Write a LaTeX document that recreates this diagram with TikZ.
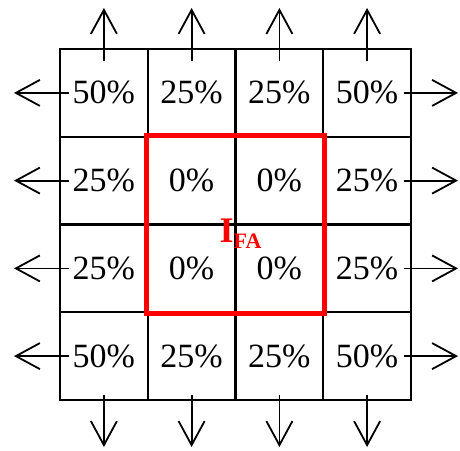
\documentclass[tikz,border=0pt]{standalone}
\usepackage{fontspec}
\setmainfont{Liberation Serif}
\usetikzlibrary{arrows.meta,positioning}
\definecolor{Grid}{HTML}{000000}
\definecolor{Core}{HTML}{FF0000}

\begin{document}
\begin{tikzpicture}[x=1pt,y=-1pt, cell/.style={draw=Grid,line width=2.2pt,minimum width=87.75pt,minimum height=87.75pt,inner sep=0pt,font=\fontsize{34}{34}\selectfont}, flow/.style={-{Straight Barb[length=24pt,width=26pt,line width=1.8pt]},line width=1.8pt,draw=Grid}]
\useasboundingbox (0,0) rectangle (460,450);
\node[cell] (c11) at (103.9,92.9) {50\%};\node[cell] (c12) at (191.6,92.9) {25\%};\node[cell] (c13) at (279.4,92.9) {25\%};\node[cell] (c14) at (367.1,92.9) {50\%};
\node[cell] (c21) at (103.9,180.6) {25\%};\node[cell] (c22) at (191.6,180.6) {0\%};\node[cell] (c23) at (279.4,180.6) {0\%};\node[cell] (c24) at (367.1,180.6) {25\%};
\node[cell] (c31) at (103.9,268.4) {25\%};\node[cell] (c32) at (191.6,268.4) {0\%};\node[cell] (c33) at (279.4,268.4) {0\%};\node[cell] (c34) at (367.1,268.4) {25\%};
\node[cell] (c41) at (103.9,356.1) {50\%};\node[cell] (c42) at (191.6,356.1) {25\%};\node[cell] (c43) at (279.4,356.1) {25\%};\node[cell] (c44) at (367.1,356.1) {50\%};
\draw[Core,line width=4.5pt] (c22.north west) rectangle (c33.south east);
\node[text=Core,inner sep=0pt] (ifa) at ([xshift=4pt,yshift=-8pt]c22.south east) {{\fontsize{36}{36}\selectfont\bfseries I}{\fontsize{22}{22}\selectfont\bfseries\raisebox{-6pt}{FA}}};
% free ends of the arrows
\coordinate (t1) at (103.9,8);\coordinate (t2) at (191.6,8);\coordinate (t3) at (279.4,8);\coordinate (t4) at (367.1,8);
\coordinate (b1) at (103.9,447);\coordinate (b2) at (191.6,447);\coordinate (b3) at (279.4,447);\coordinate (b4) at (367.1,447);
\coordinate (l1) at (14,92.9);\coordinate (l2) at (14,180.6);\coordinate (l3) at (14,268.4);\coordinate (l4) at (14,356.1);
\coordinate (r1) at (458,92.9);\coordinate (r2) at (458,180.6);\coordinate (r3) at (458,268.4);\coordinate (r4) at (458,356.1);
\draw[flow] ([yshift=-13pt]c11.north)--(t1);\draw[flow] ([yshift=-13pt]c12.north)--(t2);\draw[flow] ([yshift=-13pt]c13.north)--(t3);\draw[flow] ([yshift=-13pt]c14.north)--(t4);
\draw[flow] ([yshift=6pt]c41.south)--(b1);\draw[flow] ([yshift=6pt]c42.south)--(b2);\draw[flow] ([yshift=6pt]c43.south)--(b3);\draw[flow] ([yshift=6pt]c44.south)--(b4);
\draw[flow] ([xshift=10pt]c11.west)--(l1);\draw[flow] ([xshift=10pt]c21.west)--(l2);\draw[flow] ([xshift=10pt]c31.west)--(l3);\draw[flow] ([xshift=10pt]c41.west)--(l4);
\draw[flow] ([xshift=-8pt]c14.east)--(r1);\draw[flow] ([xshift=-8pt]c24.east)--(r2);\draw[flow] ([xshift=-8pt]c34.east)--(r3);\draw[flow] ([xshift=-8pt]c44.east)--(r4);
\end{tikzpicture}
\end{document}
